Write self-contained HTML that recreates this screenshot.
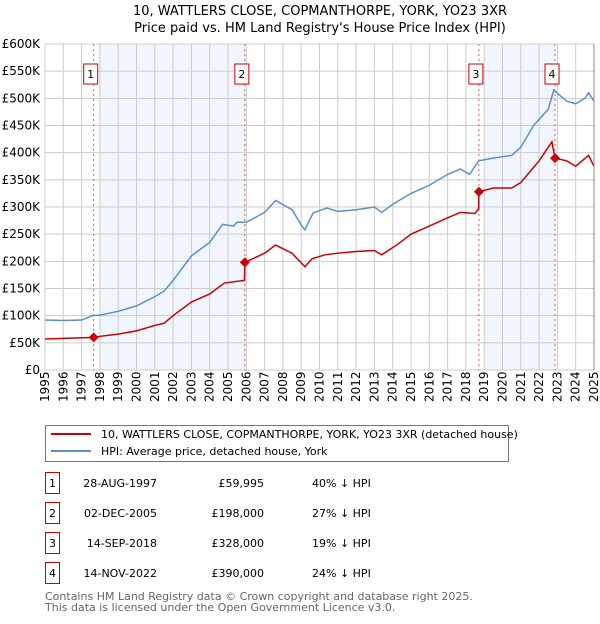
<!DOCTYPE html>
<html><head><meta charset="utf-8"><style>
body{margin:0;background:#fff;font-family:"DejaVu Sans","Liberation Sans",sans-serif;}
svg text{font-family:"DejaVu Sans","Liberation Sans",sans-serif;}
</style></head><body>
<svg id="chart" width="600" height="620" xmlns="http://www.w3.org/2000/svg">
<text x="320" y="15" text-anchor="middle" font-size="13">10, WATTLERS CLOSE, COPMANTHORPE, YORK, YO23 3XR</text>
<text x="320" y="32" text-anchor="middle" font-size="13">Price paid vs. HM Land Registry's House Price Index (HPI)</text>
<g id="plot"></g>
<g>
<rect x="45.5" y="425.5" width="463" height="36" fill="#fff" stroke="#777"/>
<line x1="51" y1="434" x2="91" y2="434" stroke="#cc0000" stroke-width="2"/>
<text x="101" y="438" font-size="11">10, WATTLERS CLOSE, COPMANTHORPE, YORK, YO23 3XR (detached house)</text>
<line x1="51" y1="451" x2="91" y2="451" stroke="#5b8fd0" stroke-width="2"/>
<text x="101" y="455" font-size="11">HPI: Average price, detached house, York</text>
</g>
<g id="table" font-size="11"></g>
<text x="45" y="600" font-size="11" fill="#666">Contains HM Land Registry data © Crown copyright and database right 2025.</text>
<text x="45" y="611" font-size="11" fill="#666">This data is licensed under the Open Government Licence v3.0.</text>
</svg>
<script>
const hpiYears=[1995,1996,1997,1997.6,1998,1999,2000,2001,2001.5,2002,2003,2004,2004.7,2005.3,2005.5,2006,2007,2007.6,2008.5,2009,2009.2,2009.65,2010.4,2011,2012,2013,2013.4,2014,2015,2016,2017,2017.7,2018.2,2018.7,2019.5,2020.5,2021,2021.7,2022.5,2022.8,2023.5,2024,2024.5,2024.7,2025];
const hpiValues=[92000,91000,92000,100000,101000,108000,118000,135000,145000,165000,210000,235000,268000,265000,272000,272000,290000,312000,295000,267000,258000,289000,298000,292000,295000,300000,290000,305000,325000,340000,360000,370000,360000,385000,390000,395000,410000,450000,480000,515000,495000,490000,500000,510000,495000];
const ppYears=[1995,1997.66,1998,1999,2000,2001,2001.5,2002,2003,2004,2004.8,2005.9,2005.92,2007,2007.6,2008.5,2009.2,2009.6,2010.3,2011,2012,2013,2013.4,2014.3,2015,2016,2017,2017.7,2018.5,2018.7,2018.71,2019.5,2020.5,2021,2021.5,2022,2022.7,2022.87,2023.5,2024,2024.7,2025];
const ppValues=[57000,59995,62000,66000,72000,82000,86000,100000,125000,140000,160000,165000,198000,215000,230000,215000,190000,205000,212000,215000,218000,220000,212000,232000,250000,265000,280000,290000,288000,297000,328000,335000,335000,345000,365000,385000,420000,390000,385000,375000,395000,375000];
const saleYears=[1997.66,2005.92,2018.71,2022.87];
const saleValues=[59995,198000,328000,390000];
const saleDates=["28-AUG-1997","02-DEC-2005","14-SEP-2018","14-NOV-2022"];
const salePrices=["£59,995","£198,000","£328,000","£390,000"];
const saleHpi=["40% ↓ HPI","27% ↓ HPI","19% ↓ HPI","24% ↓ HPI"];
const yTicks=[0,50000,100000,150000,200000,250000,300000,350000,400000,450000,500000,550000,600000];
const yTickLabels=["£0","£50K","£100K","£150K","£200K","£250K","£300K","£350K","£400K","£450K","£500K","£550K","£600K"];
const xTicks=[1995,1996,1997,1998,1999,2000,2001,2002,2003,2004,2005,2006,2007,2008,2009,2010,2011,2012,2013,2014,2015,2016,2017,2018,2019,2020,2021,2022,2023,2024,2025];
const shadeRanges=[[1998,2005.92],[2019,2022.87]];

const L=45,R=594,T=44,B=370;
const x=v=>L+(v-1995)/30*(R-L);
const y=v=>B-v/600000*(B-T);
const NS="http://www.w3.org/2000/svg";
const plot=document.getElementById('plot');
function mk(tag,attrs,parent){const e=document.createElementNS(NS,tag);for(const k in attrs)e.setAttribute(k,attrs[k]);(parent||plot).appendChild(e);return e;}
shadeRanges.forEach(r=>{const e=mk('rect',{x:x(r[0]),y:T,width:x(r[1])-x(r[0]),height:B-T,fill:'#eef3fc',opacity:0.8});

});
yTicks.forEach((t,i)=>{const l=mk('line',{x1:L,x2:R,y1:y(t),y2:y(t),stroke:'#ccc'});


const tx=mk('text',{x:L-5,y:y(t)+4,'text-anchor':'end','font-size':12});tx.textContent=yTickLabels[i];

});
xTicks.forEach(t=>{const l=mk('line',{x1:x(t),x2:x(t),y1:T,y2:B,stroke:'#ccc'});


const tx=mk('text',{x:0,y:0,'font-size':12,transform:`translate(${x(t)+4},${B+32}) rotate(-90)`});tx.textContent=t;

});
saleYears.forEach((s,i)=>{const l=mk('line',{x1:x(s),x2:x(s),y1:T,y2:B,stroke:'#e55','stroke-dasharray':'2,3'});


const bx=mk('rect',{x:x(s)-10,y:64,width:14,height:20,fill:'#fff',stroke:'#cc0000'});


const tx=mk('text',{x:x(s)-3,y:78,'text-anchor':'middle','font-size':11});tx.textContent=i+1;

});
const hp=mk('polyline',{points:hpiYears.map((v,i)=>x(v)+','+y(hpiValues[i])).join(' '),fill:'none',stroke:'#5b8fd0','stroke-width':1.5});


const pp=mk('polyline',{points:ppYears.map((v,i)=>x(v)+','+y(ppValues[i])).join(' '),fill:'none',stroke:'#cc0000','stroke-width':1.5});


saleYears.forEach((s,i)=>{const c=mk('path',{d:`M${x(s)},${y(saleValues[i])-5}l5,5l-5,5l-5,-5z`,fill:'#cc0000'});

});
const ax=mk('line',{x1:R,x2:R,y1:T,y2:B,stroke:'#888'});


const tb=document.getElementById('table');
saleDates.forEach((d,i)=>{const yy=483+i*30;
const b=mk('rect',{x:45.5,y:yy-10.5,width:14,height:21,fill:'#fff',stroke:'#cc0000'},tb);


const cells=[[52.5,(i+1)+'','middle'],[157,d,'end'],[264,salePrices[i],'end'],[312,saleHpi[i],'start']];
cells.forEach(c=>{const t=mk('text',{x:c[0],y:yy+4,'text-anchor':c[2]},tb);t.textContent=c[1];

});});
</script>
</body></html>
